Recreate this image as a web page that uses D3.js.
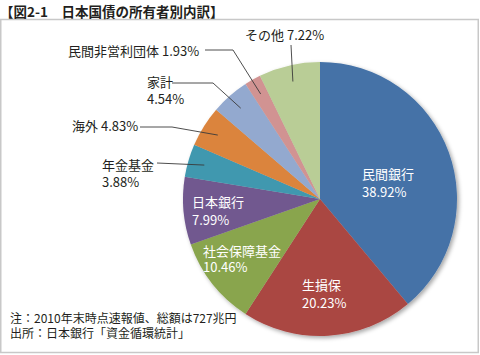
<!DOCTYPE html>
<html><head><meta charset="utf-8">
<script src="https://cdn.jsdelivr.net/npm/d3@7"></script>
<style>
html,body{margin:0;padding:0;background:#fff;}
svg{display:block;font-family:"Noto Sans CJK JP","Noto Sans",sans-serif;}
</style></head>
<body>
<svg id="chart" width="480" height="355"></svg>
<script>
const categories = ["民間銀行","生損保","社会保障基金","日本銀行","年金基金","海外","家計","民間非営利団体","その他"];
const values = [38.92, 20.23, 10.46, 7.99, 3.88, 4.83, 4.54, 1.93, 7.22];
const colors = ["#4572A7","#AA4643","#89A54E","#71588F","#4198AF","#DB843D","#93A9CF","#D19392","#B9CD96"];
const title = "【図2-1　日本国債の所有者別内訳】";
const notes = ["注：2010年末時点速報値、総額は727兆円", "出所：日本銀行「資金循環統計」"];

const svg = d3.select("#chart");
const W = 480, H = 355;
const cx = 320, cy = 199, R = 137;

// frame
svg.append("rect").attr("x", 0.75).attr("y", 19.5).attr("width", 477.5).attr("height", 333)
  .attr("fill", "#fff").attr("stroke", "#c8c8c8").attr("stroke-width", 1.5);

// title
svg.append("text").attr("x", 0).attr("y", 17).attr("font-size", 13.5).attr("font-weight", "bold")
  .attr("fill", "#231f20").text(title);

// shadow filter
const defs = svg.append("defs");
const f = defs.append("filter").attr("id", "sh").attr("x", "-10%").attr("y", "-10%").attr("width", "130%").attr("height", "130%");
f.append("feDropShadow").attr("dx", 2).attr("dy", 2).attr("stdDeviation", 2).attr("flood-color", "#000").attr("flood-opacity", 0.35);

const data = categories.map((c, i) => ({name: c, value: values[i], color: colors[i]}));
const pie = d3.pie().value(d => d.value).sort(null);
const arcs = pie(data);
const arc = d3.arc().innerRadius(0).outerRadius(R);
const g = svg.append("g").attr("transform", `translate(${cx},${cy})`);
g.append("g").attr("filter", "url(#sh)").selectAll("path").data(arcs).join("path")
  .attr("d", arc).attr("fill", d => d.data.color);

const fmt = v => v.toFixed(2) + "%";

// inside labels (white, two lines)
const inside = [
  {i: 0, x: 362, y: 179},
  {i: 1, x: 302, y: 290},
  {i: 2, x: 203, y: 256},
  {i: 3, x: 192, y: 207}
];
inside.forEach(o => {
  const t = svg.append("text").attr("font-size", 13).attr("fill", "#fff");
  t.append("tspan").attr("x", o.x).attr("y", o.y).text(categories[o.i]);
  t.append("tspan").attr("x", o.x).attr("y", o.y + (o.i === 2 ? 15.5 : 17.5)).text(fmt(values[o.i]));
});

// outside labels with leaders
const leaderArc = d3.arc().innerRadius(R * 0.88).outerRadius(R * 0.88);
const outside = [
  {i: 4, lines: true, x: 102, y: 170, elbow: null, from: [157, 163]},
  {i: 5, lines: false, x: 72, y: 131, elbow: [172, 127], from: [140, 127]},
  {i: 6, lines: true, x: 147, y: 87, elbow: [213, 83], from: [172, 83]},
  {i: 7, lines: false, x: 68, y: 56, elbow: [233, 50], from: [205, 50]},
  {i: 8, lines: false, x: 245, y: 40, elbow: null, from: [291, 45]}
];
outside.forEach(o => {
  const t = svg.append("text").attr("font-size", 13).attr("fill", "#231f20");
  if (o.lines) {
    t.append("tspan").attr("x", o.x).attr("y", o.y).text(categories[o.i]);
    t.append("tspan").attr("x", o.x).attr("y", o.y + 16.5).text(fmt(values[o.i]));
  } else {
    t.attr("x", o.x).attr("y", o.y).text(categories[o.i] + " " + fmt(values[o.i]));
  }
  const c = leaderArc.centroid(arcs[o.i]);
  const end = [cx + c[0], cy + c[1]];
  const pts = [o.from];
  if (o.elbow) pts.push(o.elbow);
  pts.push(end);
  svg.append("path").attr("d", d3.line()(pts)).attr("fill", "none")
    .attr("stroke", "#3a3a3a").attr("stroke-width", 0.9);
});

// notes
notes.forEach((n, k) => {
  svg.append("text").attr("x", 10).attr("y", 323 + k * 15).attr("font-size", 12)
    .attr("fill", "#231f20").text(n);
});
</script>
</body></html>
